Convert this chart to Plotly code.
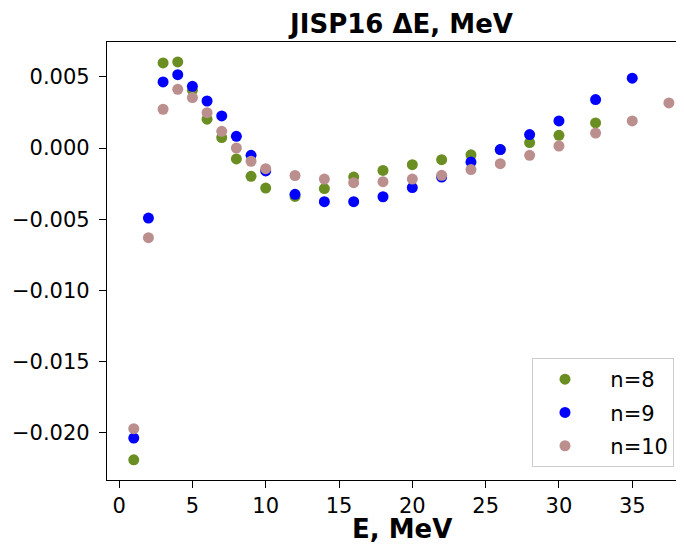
import plotly.graph_objects as go

# Energies (MeV)
E_n8 = [1, 3, 4, 5, 6, 7, 8, 9, 10, 12, 14, 16, 18, 20, 22, 24, 26, 28, 30, 32.5]
dE_n8 = [-0.02188, 0.00597, 0.00604, 0.00405, 0.00202, 0.00073, -0.00077, -0.00199, -0.00281,
         -0.00340, -0.00285, -0.00204, -0.00157, -0.00117, -0.00082, -0.00048, -0.00011,
         0.00038, 0.00089, 0.00176]

E_n9 = [1, 2, 3, 4, 5, 6, 7, 8, 9, 10, 12, 14, 16, 18, 20, 22, 24, 26, 28, 30, 32.5, 35]
dE_n9 = [-0.02036, -0.00492, 0.00464, 0.00515, 0.00433, 0.00330, 0.00225, 0.00082, -0.00051,
         -0.00161, -0.00325, -0.00377, -0.00377, -0.00342, -0.00278, -0.00204, -0.00099,
         -0.00011, 0.00094, 0.00190, 0.00340, 0.00490]

E_n10 = [1, 2, 3, 4, 5, 6, 7, 8, 9, 10, 12, 14, 16, 18, 20, 22, 24, 26, 28, 30, 32.5, 35, 37.5]
dE_n10 = [-0.01970, -0.00629, 0.00272, 0.00412, 0.00354, 0.00248, 0.00117, 0.00000, -0.00093,
          -0.00145, -0.00193, -0.00218, -0.00243, -0.00236, -0.00218, -0.00192, -0.00151,
          -0.00110, -0.00051, 0.00014, 0.00105, 0.00190, 0.00316]

series_names = ["n=8", "n=9", "n=10"]
series_colors = ["#6B8E23", "#0000FF", "#BC8F8F"]

x_ticks = [0, 5, 10, 15, 20, 25, 30, 35]
y_ticks = [-0.020, -0.015, -0.010, -0.005, 0.000, 0.005]

FONT = "DejaVu Sans"
OFF = 8  # page body margin
W, H = 684 - OFF, 545 - OFF
L, T = 107 - OFF, 42 - OFF
B = H - (480 - OFF)
PW, PH = W - L, H - T - B
NB = "\u00a0"


def px_x(px):
    return (px - OFF - L) / PW


def px_y(py):
    return ((480 - OFF) - (py - OFF)) / PH


fig = go.Figure()
for i, (xs, ys) in enumerate([(E_n8, dE_n8), (E_n9, dE_n9), (E_n10, dE_n10)]):
    fig.add_trace(go.Scatter(
        x=xs, y=ys, mode="markers", name=NB * 2 + series_names[i],
        legendgroup=series_names[i],
        marker=dict(color=series_colors[i], size=11, line=dict(width=0)),
    ))

fig.update_layout(
    width=W, height=H,
    margin=dict(l=L, r=0, t=T, b=B, autoexpand=False),
    paper_bgcolor="white", plot_bgcolor="white",
    font=dict(family=FONT, size=21, color="black"),
    title=dict(text="<b>JISP16 ΔE, MeV</b>", x=px_x(401.5), xref="paper", xanchor="center",
               y=1 - (24 - OFF) / H, yref="container", yanchor="middle",
               font=dict(family=FONT, size=26, color="black")),
    showlegend=True,
    legend=dict(x=px_x(532), xanchor="left", y=px_y(467), yanchor="bottom",
                bgcolor="rgba(255,255,255,0.8)", bordercolor="#cccccc", borderwidth=1,
                font=dict(family=FONT, size=21, color="black"),
                itemwidth=54, tracegroupgap=3),
)

fig.update_xaxes(
    range=[-0.825, 38.53], tickvals=x_ticks, ticktext=[str(v) for v in x_ticks],
    showgrid=False, zeroline=False, showline=True, linecolor="black", linewidth=1.2,
    mirror=True, ticks="outside", ticklen=7, tickwidth=1.2, tickcolor="black",
    tickfont=dict(family=FONT, size=21, color="black"), automargin=False,
)
fig.update_yaxes(
    range=[-0.0233, 0.00744], tickvals=y_ticks, tickformat=".3f",
    showgrid=False, zeroline=False, showline=True, linecolor="black", linewidth=1.2,
    mirror=False, ticks="outside", ticklen=7, tickwidth=1.2, tickcolor="black",
    tickfont=dict(family=FONT, size=21, color="black"), automargin=False,
    ticklabelstandoff=5,
)

fig.add_annotation(text="<b>E, MeV</b>", xref="paper", yref="paper",
                   x=px_x(401.5), y=px_y(529),
                   xanchor="center", yanchor="middle", showarrow=False,
                   font=dict(family=FONT, size=26, color="black"))

fig.write_html("out.html")
